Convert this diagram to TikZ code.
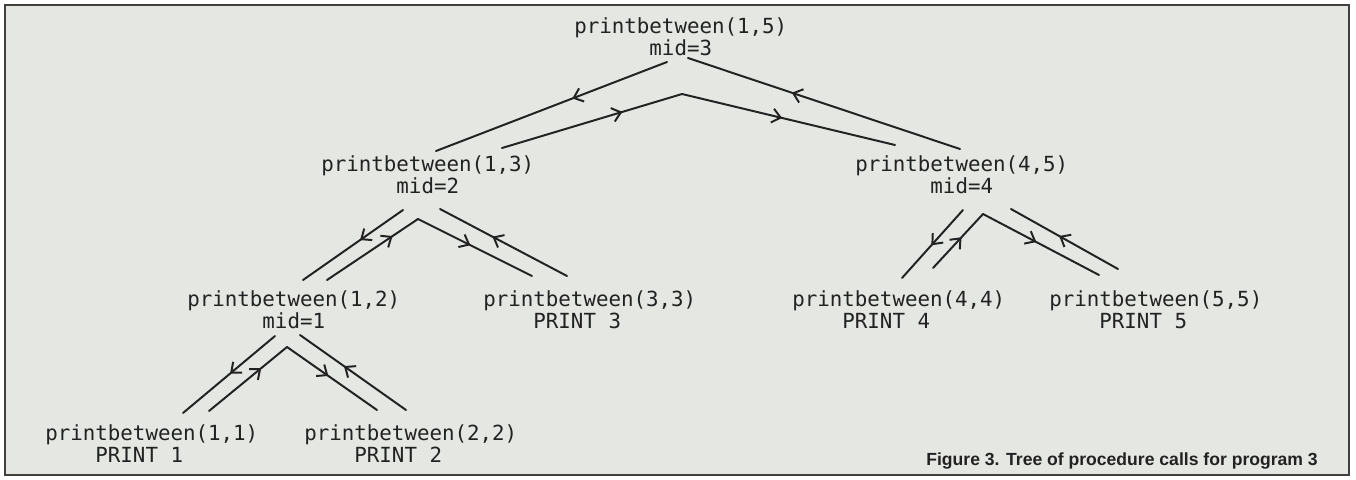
\documentclass[tikz,border=0pt]{standalone}
\usepackage{fontspec}
\newfontfamily\mono{DejaVu Sans Mono}
\newfontfamily\capfont{Liberation Sans}
\usetikzlibrary{decorations.markings,arrows.meta}
\definecolor{bg}{HTML}{E5E7E3}
\definecolor{ink}{HTML}{222222}
\tikzset{
  lbl/.style={anchor=north west, inner sep=0pt, align=left, text=ink,
              font=\mono\fontsize{14.8}{16}\selectfont},
  edge/.style={draw=ink, line width=1.4pt, line cap=round},
  fwd/.style={edge, postaction={decorate},
              decoration={markings, mark=at position #1 with {\arrow{>}}}},
  bwd/.style={edge, postaction={decorate},
              decoration={markings, mark=at position #1 with {\arrow{<}}}},
  >={Straight Barb[length=6pt,width=10pt]}
}
\begin{document}
\begin{tikzpicture}[x=0.025cm,y=-0.025cm]
\useasboundingbox (0,0) rectangle (1356,480);
\fill[white] (0,0) rectangle (1356,480);
\draw[fill=bg, draw=black!75, line width=1.2pt] (5,5) rectangle (1349,475);

% labels
\node[lbl] (root) at (574,17)  {printbetween(1,5)\\\phantom{printb}mid=3};
\node[lbl] (n13)  at (321,155) {printbetween(1,3)\\\phantom{printb}mid=2};
\node[lbl] (n45)  at (855,155) {printbetween(4,5)\\\phantom{printb}mid=4};
\node[lbl] (n12)  at (187,290) {printbetween(1,2)\\\phantom{printb}mid=1};
\node[lbl] (n33)  at (483,290) {printbetween(3,3)\\\phantom{prin}PRINT 3};
\node[lbl] (n44)  at (792,290) {printbetween(4,4)\\\phantom{prin}PRINT 4};
\node[lbl] (n55)  at (1049,290) {printbetween(5,5)\\\phantom{prin}PRINT 5};
\node[lbl] (n11)  at (45,424)  {printbetween(1,1)\\\phantom{prin}PRINT 1};
\node[lbl] (n22)  at (304,424) {printbetween(2,2)\\\phantom{prin}PRINT 2};

\node[anchor=base east, inner sep=0pt, text=ink,
      font=\capfont\bfseries\fontsize{12.5}{15}\selectfont] (cap) at (1318,465)
      {Figure 3. Tree of procedure calls for program 3};

% root -> (1,3),(4,5)
\coordinate (r-lo-t) at (667,62);  \coordinate (r-lo-b) at (436,151);
\coordinate (r-ap)   at (682,94);
\coordinate (r-li-b) at (502,148); \coordinate (r-ri-b) at (895,145);
\coordinate (r-ro-t) at (688,58);  \coordinate (r-ro-b) at (960,149);
\path[fwd=0.41] (r-lo-t) -- (r-lo-b);
\path[bwd=0.39] (r-ap) -- (r-li-b);
\path[fwd=0.47] (r-ap) -- (r-ri-b);
\path[bwd=0.42] (r-ro-t) -- (r-ro-b);

% (1,3) -> (1,2),(3,3)
\coordinate (a-lo-t) at (403,210); \coordinate (a-lo-b) at (303,280);
\coordinate (a-ap)   at (418,219);
\coordinate (a-li-b) at (327,280); \coordinate (a-ri-b) at (532,276);
\coordinate (a-ro-t) at (440,209); \coordinate (a-ro-b) at (567,276);
\path[fwd=0.43] (a-lo-t) -- (a-lo-b);
\path[bwd=0.38] (a-ap) -- (a-li-b);
\path[fwd=0.46] (a-ap) -- (a-ri-b);
\path[bwd=0.49] (a-ro-t) -- (a-ro-b);

% (4,5) -> (4,4),(5,5)
\coordinate (b-lo-t) at (963,210);  \coordinate (b-lo-b) at (902,278);
\coordinate (b-ap)   at (983,214);
\coordinate (b-li-b) at (933,268);  \coordinate (b-ri-b) at (1099,275);
\coordinate (b-ro-t) at (1011,209); \coordinate (b-ro-b) at (1118,269);
\path[fwd=0.52] (b-lo-t) -- (b-lo-b);
\path[bwd=0.58] (b-ap) -- (b-li-b);
\path[fwd=0.46] (b-ap) -- (b-ri-b);
\path[bwd=0.54] (b-ro-t) -- (b-ro-b);

% (1,2) -> (1,1),(2,2)
\coordinate (c-lo-t) at (275,336); \coordinate (c-lo-b) at (183,413);
\coordinate (c-ap)   at (287,347);
\coordinate (c-li-b) at (209,411); \coordinate (c-ri-b) at (377,410);
\coordinate (c-ro-t) at (300,335); \coordinate (c-ro-b) at (406,410);
\path[fwd=0.49] (c-lo-t) -- (c-lo-b);
\path[bwd=0.44] (c-ap) -- (c-li-b);
\path[fwd=0.46] (c-ap) -- (c-ri-b);
\path[bwd=0.50] (c-ro-t) -- (c-ro-b);
\end{tikzpicture}
\end{document}
